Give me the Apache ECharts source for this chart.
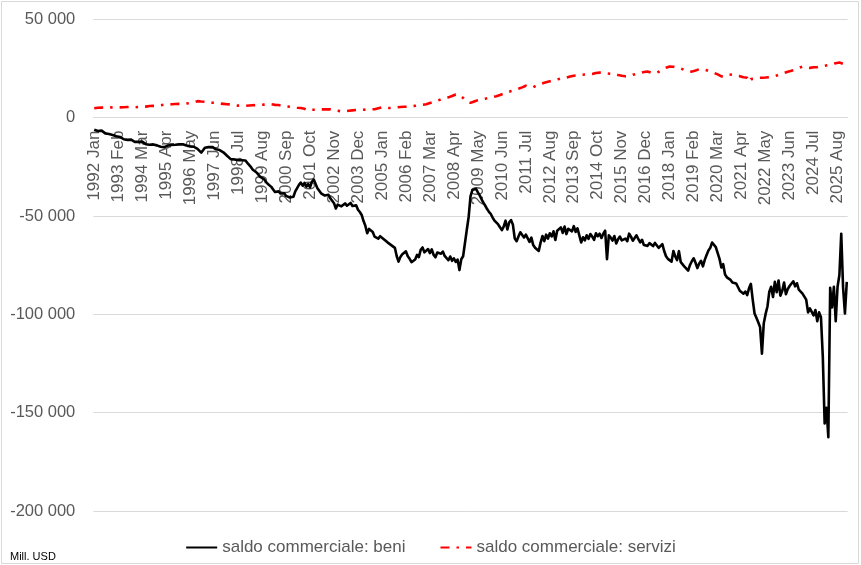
<!DOCTYPE html>
<html>
<head>
<meta charset="utf-8">
<script src="https://cdn.jsdelivr.net/npm/echarts@6/dist/echarts.min.js"></script>
<style>
    html, body { margin: 0; padding: 0; background: #fff; }
    #chart { width: 861px; height: 565px; }
</style>
</head>
<body>
<div id="chart"></div>
<script>
// primo mese della serie: 1992 Jan
const firstYear = 1992;
const monthNames = ['Jan', 'Feb', 'Mar', 'Apr', 'May', 'Jun', 'Jul', 'Aug', 'Sep', 'Oct', 'Nov', 'Dec'];
const seriesNames = ['saldo commerciale: beni', 'saldo commerciale: servizi'];
const unitLabel = 'Mill. USD';
// asse y
const yMin = -200000;
const yMax = 50000;
const yStep = 50000;

// saldo beni, mensile (Mill. USD), una riga per anno
const beni = [
    -6200, -5600, -6800, -7200, -6600, -7500, -8000, -7600, -8300, -8100, -8800, -9200, // 1992
    -9500, -10300, -9800, -10600, -11000, -10400, -11300, -11800, -11200, -12000, -12300, -11800, // 1993
    -12300, -12800, -12200, -13100, -13500, -12900, -13800, -14200, -13600, -14400, -14100, -14700, // 1994
    -14800, -15400, -15000, -14600, -14200, -14500, -13900, -13500, -13800, -13200, -13600, -13400, // 1995
    -13500, -13300, -14200, -13800, -14600, -15200, -14800, -15500, -15900, -16300, -17800, -16600, // 1996
    -15300, -15800, -15000, -15600, -14900, -15400, -16100, -15800, -16500, -17000, -17600, -18300, // 1997
    -19400, -20200, -21100, -20500, -21300, -20800, -21600, -22400, -21700, -22300, -21800, -23000, // 1998
    -24000, -25200, -26500, -27300, -27900, -28800, -30100, -30600, -31200, -32500, -33600, -34400, // 1999
    -35200, -36500, -37800, -36900, -37500, -38600, -37900, -38500, -39800, -39200, -40600, -39800, // 2000
    -40200, -37500, -35800, -34200, -33000, -34600, -33200, -35100, -33800, -35400, -32600, -31500, // 2001
    -31800, -35900, -36800, -38500, -38000, -39600, -40300, -39200, -41000, -41800, -43500, -46200, // 2002
    -44200, -43500, -45100, -44300, -43600, -44800, -44100, -43400, -44900, -45300, -44600, -46800, // 2003
    -48000, -49500, -52600, -55000, -58800, -56600, -57400, -58200, -60500, -59800, -61500, -60300, // 2004
    -60200, -61800, -62700, -63400, -62500, -64800, -65500, -66200, -70500, -73200, -70800, -69500, // 2005
    -69200, -68000, -70500, -71800, -73500, -74300, -72100, -69800, -70900, -67200, -66000, -68500, // 2006
    -67500, -66800, -68900, -67000, -69800, -71000, -68600, -67900, -69200, -68100, -70300, -71200, // 2007
    -72500, -70600, -72800, -71500, -73400, -72200, -77500, -72000, -70500, -70000, -57000, -50500, // 2008
    -40000, -36800, -37500, -36200, -38000, -39500, -41500, -43200, -44800, -46500, -47900, -49000, // 2009
    -50800, -52400, -51500, -54300, -53800, -57200, -55400, -52400, -56800, -53200, -52100, -54500, // 2010
    -61500, -62800, -60400, -58300, -57600, -60900, -59500, -58800, -63200, -61000, -64800, -66200, // 2011
    -66500, -67800, -63500, -60200, -62800, -59500, -61500, -58800, -60400, -57800, -62200, -57500, // 2012
    -57600, -55800, -58600, -55400, -59200, -56500, -55600, -57800, -55200, -58100, -56300, -57000, // 2013
    -63500, -60800, -62400, -59800, -61600, -59200, -60500, -62100, -58800, -60300, -59000, -61200, // 2014
    -59000, -57500, -72000, -59800, -61000, -62500, -60200, -64000, -61800, -60500, -62400, -61500, // 2015
    -61500, -62800, -59000, -60500, -62600, -61200, -59800, -61800, -63400, -62100, -64800, -65500, // 2016
    -65200, -63800, -64600, -65300, -63700, -64500, -66200, -65800, -64300, -67800, -70500, -71800, // 2017
    -72000, -73200, -67800, -70600, -72400, -67900, -73500, -74600, -75800, -76200, -77800, -74900, // 2018
    -73000, -71500, -73800, -76500, -74200, -72800, -75600, -72300, -69800, -67500, -66200, -63500, // 2019
    -63500, -65800, -66500, -71800, -76200, -74500, -79800, -81200, -80400, -82500, -83800, -84600, // 2020
    -84300, -86100, -88000, -87200, -89500, -88400, -90200, -86800, -84500, -92500, -99600, -101800, // 2021
    -104000, -106500, -120000, -104500, -99800, -96000, -88500, -86000, -91200, -83500, -88800, -82800, // 2022
    -90500, -88200, -83800, -89800, -87200, -85600, -86500, -83200, -85800, -84200, -87500, -88200, // 2023
    -89500, -91000, -92500, -99000, -97000, -96500, -100500, -97800, -103500, -99000, -101500, -121500, // 2024
    -155500, -147500, -162500, -86500, -96500, -86000, -103500, -86000, -80000, -59000, -86500, -99500, // 2025
    -83500 // 2026
];

// saldo servizi, mensile (Mill. USD)
const servizi = [
    4800, 4900, 5000, 4900, 5100, 5000, 5200, 5100, 5000, 5200, 5300, 5200, // 1992
    5200, 5300, 5200, 5400, 5300, 5200, 5400, 5300, 5500, 5400, 5300, 5500, // 1993
    5400, 5600, 5500, 5700, 5600, 5800, 5900, 5700, 6000, 6100, 6000, 6200, // 1994
    6300, 6500, 6600, 6400, 6700, 6600, 6800, 6700, 6900, 6800, 7000, 6900, // 1995
    6900, 7000, 7200, 7100, 7400, 7300, 7600, 7800, 8400, 8600, 8200, 8000, // 1996
    8100, 7900, 7800, 7700, 7600, 7400, 7500, 7300, 7200, 7100, 7000, 6900, // 1997
    6800, 6600, 6700, 6400, 6300, 6200, 6100, 6300, 6100, 6200, 6000, 6100, // 1998
    6200, 6100, 6300, 6200, 6400, 6300, 6500, 6400, 6600, 6500, 6700, 6600, // 1999
    6800, 6700, 6500, 6600, 6400, 6200, 6000, 5900, 5700, 5600, 5500, 5400, // 2000
    5300, 5200, 5000, 4900, 4900, 4700, 4500, 4300, 3600, 4100, 4000, 3900, // 2001
    4000, 4100, 4200, 4300, 4200, 4400, 4300, 4100, 4200, 3900, 3800, 3700, // 2002
    3500, 3300, 3200, 3100, 3300, 3400, 3500, 3600, 3700, 3800, 3900, 3800, // 2003
    3800, 3900, 4000, 3900, 4100, 4000, 4200, 4100, 4300, 4500, 4800, 5000, // 2004
    5200, 5100, 5300, 5000, 4900, 4800, 5000, 5100, 5200, 5300, 5400, 5500, // 2005
    5500, 5600, 5500, 5800, 5700, 5900, 6000, 6100, 6300, 6400, 6500, 6600, // 2006
    6800, 7100, 7400, 7800, 8000, 8300, 8600, 8900, 9300, 9700, 10000, 10300, // 2007
    10300, 10600, 11000, 11500, 11800, 12000, 11600, 11200, 10000, 9000, 8200, 7600, // 2008
    7500, 7800, 8200, 8600, 8900, 9100, 9300, 9500, 9600, 9800, 10000, 10200, // 2009
    10400, 10600, 10900, 11200, 11500, 11900, 12200, 12600, 12900, 13200, 13500, 13800, // 2010
    14000, 14300, 14700, 15000, 15400, 15800, 16200, 16000, 15400, 15100, 15500, 16000, // 2011
    16400, 16800, 17100, 17400, 17700, 18000, 18200, 18400, 18700, 18900, 19100, 19400, // 2012
    19700, 20000, 20200, 20500, 20400, 20700, 20900, 21100, 21300, 21200, 21500, 21700, // 2013
    21800, 21600, 21900, 22100, 22000, 22300, 22200, 22500, 22700, 22600, 22900, 23000, // 2014
    23000, 22800, 22500, 22600, 22300, 22100, 22200, 21900, 21700, 21500, 21300, 21100, // 2015
    21000, 20800, 21100, 21400, 21800, 22100, 22300, 22500, 22800, 23000, 23200, 23400, // 2016
    23500, 23300, 22900, 22600, 22500, 22800, 23300, 23800, 24400, 24900, 25400, 25900, // 2017
    26000, 25800, 25900, 25600, 25400, 25200, 25000, 24600, 24200, 23800, 23500, 23300, // 2018
    23400, 23700, 24000, 24300, 24600, 24800, 24700, 24400, 24100, 23800, 23400, 23000, // 2019
    22800, 22500, 22000, 21400, 21000, 20800, 21200, 21600, 22000, 22200, 21800, 21400, // 2020
    21300, 21000, 21100, 20800, 20500, 20600, 20300, 18200, 19600, 19200, 19800, 19500, // 2021
    20200, 19800, 20300, 20500, 20400, 20200, 20600, 20500, 20800, 21000, 21400, 21800, // 2022
    22200, 22500, 22700, 23000, 23300, 23500, 23800, 24100, 24500, 24900, 25300, 25700, // 2023
    25900, 25800, 25600, 25500, 25300, 25400, 25600, 25500, 25700, 25900, 26100, 26300, // 2024
    26400, 26600, 26800, 27000, 27200, 27500, 27700, 27900, 28000, 27800, 27400, 27100, // 2025
    26900 // 2026
];

// etichette categorie "1992 Jan" ...
const categories = beni.map((v, i) => (firstYear + Math.floor(i / 12)) + ' ' + monthNames[i % 12]);

// separatore migliaia con spazio
function fmtThousands(v) {
    return String(v).replace(/\B(?=(\d{3})+(?!\d))/g, ' ');
}

// area del grafico
const gridTop = 19.3;
const gridBottom = 54;
const gridHeight = 565 - gridTop - gridBottom;
// l'asse x sta sullo zero: spostamento dal fondo della griglia
const zeroOffset = -gridHeight * (0 - yMin) / (yMax - yMin);

const chart = echarts.init(document.getElementById('chart'), null, { renderer: 'canvas' });
const textColor = '#595959';
const fontFamily = '"Liberation Sans", Arial, sans-serif';

const option = {
    animation: false,
    backgroundColor: '#fff',
    textStyle: { fontFamily: fontFamily },
    grid: {
        left: 93.3,
        right: 13.3,
        top: gridTop,
        bottom: gridBottom,
        outerBoundsMode: 'none'
    },
    legend: {
        left: 'center',
        top: 534,
        itemWidth: 31,
        itemHeight: 14,
        itemGap: 34,
        // niente simbolo nel legenda, solo la linea
        itemStyle: { opacity: 0 },
        textStyle: { color: textColor, fontSize: 17, fontFamily: fontFamily },
        data: seriesNames
    },
    xAxis: {
        type: 'category',
        data: categories,
        boundaryGap: true,
        position: 'bottom',
        offset: zeroOffset,
        axisLine: { onZero: false, lineStyle: { color: '#d9d9d9', width: 1 } },
        axisTick: { show: false },
        axisLabel: {
            interval: 12,
            rotate: 90,
            margin: 13,
            color: textColor,
            fontSize: 17,
            fontFamily: fontFamily
        },
        splitLine: { show: false }
    },
    yAxis: {
        type: 'value',
        min: yMin,
        max: yMax,
        interval: yStep,
        axisLine: { show: false },
        axisTick: { show: false },
        axisLabel: {
            margin: 18,
            color: textColor,
            fontSize: 16.5,
            fontFamily: fontFamily,
            formatter: fmtThousands
        },
        splitLine: { lineStyle: { color: '#d9d9d9', width: 1 } }
    },
    series: [
        {
            name: seriesNames[0],
            type: 'line',
            data: beni,
            symbol: 'none',
            lineStyle: { color: '#000', width: 2.6, join: 'round' },
            itemStyle: { color: '#000' },
            z: 3
        },
        {
            name: seriesNames[1],
            type: 'line',
            data: servizi,
            symbol: 'none',
            lineStyle: { color: '#ff0000', width: 2.6, type: [9, 7, 2.5, 7], cap: 'butt' },
            itemStyle: { color: '#ff0000' },
            z: 2
        }
    ],
    graphic: [
        {
            // bordo del grafico
            type: 'rect',
            silent: true,
            shape: { x: 1.5, y: 1.5, width: 857, height: 562 },
            style: { fill: 'none', stroke: '#d9d9d9', lineWidth: 1 }
        },
        {
            type: 'text',
            silent: true,
            left: 10,
            top: 551,
            style: { text: unitLabel, fill: '#000', font: '11px ' + fontFamily }
        }
    ]
};

chart.setOption(option);
</script>
</body>
</html>
